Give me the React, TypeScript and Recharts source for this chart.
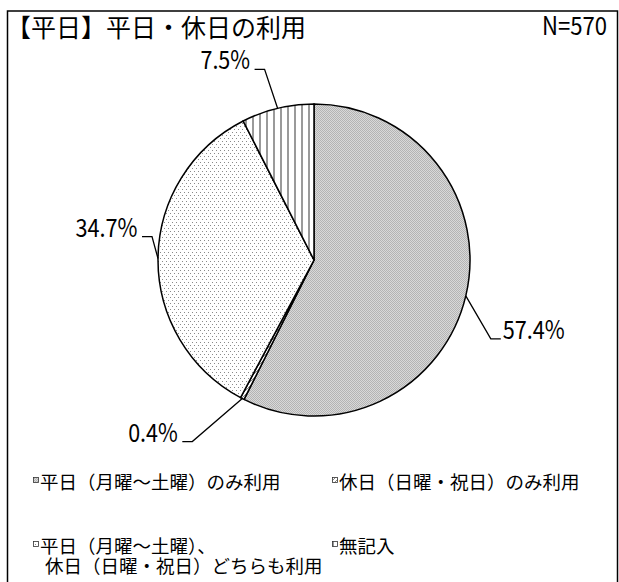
import React from 'react';
import { PieChart, Pie, Cell, Legend } from 'recharts';

const title = '【平日】平日・休日の利用';
const sampleSize = 570;
const categories = [
  '平日（月曜～土曜）のみ利用',
  '休日（日曜・祝日）のみ利用',
  '平日（月曜～土曜）、\n休日（日曜・祝日）どちらも利用',
  '無記入',
];
const shares = [57.4, 0.4, 34.7, 7.5];

const data = categories.map((name, i) => ({ name, value: shares[i] }));

const FONT = '"Noto Sans CJK JP", sans-serif';
const PATTERN_IDS = ['pat-weekday', 'pat-holiday', 'pat-both', 'pat-none'];
const RADIAN = Math.PI / 180;

// where each leader line bends, relative to the slice edge point
const LEADERS = [
  { dx: 25, dy: 43, side: 1 },
  { dx: -50, dy: 43, side: -1 },
  { dx: -6, dy: -22, side: -1 },
  { dx: -13, dy: -39, side: -1 },
];

const Patterns = () => (
  <svg width={0} height={0} style={{ position: 'absolute' }}>
    <defs>
      <pattern id="pat-weekday" width={2} height={2} patternUnits="userSpaceOnUse">
        <rect width={2} height={2} fill="#d9d9d9" />
        <rect x={0} y={0} width={1} height={1} fill="#b4b4b4" />
        <rect x={1} y={1} width={1} height={1} fill="#b4b4b4" />
      </pattern>
      <pattern id="pat-holiday" width={4} height={4} patternUnits="userSpaceOnUse">
        <rect width={4} height={4} fill="#fff" />
        <path d="M0,4 L4,0" stroke="#888" strokeWidth={1} />
      </pattern>
      <pattern id="pat-both" width={4} height={6} patternUnits="userSpaceOnUse">
        <rect width={4} height={6} fill="#fff" />
        <rect x={0} y={0} width={1} height={1} fill="#8a8a8a" />
        <rect x={2} y={3} width={1} height={1} fill="#8a8a8a" />
      </pattern>
      <pattern id="pat-none" width={7} height={7} patternUnits="userSpaceOnUse">
        <rect width={7} height={7} fill="#fff" />
        <rect x={0} y={0} width={2} height={7} fill="#9a9a9a" />
      </pattern>
    </defs>
  </svg>
);

const renderLabel = (props: any) => {
  const { cx, cy, midAngle, outerRadius, index, value } = props;
  const ax = cx + outerRadius * Math.cos(-midAngle * RADIAN);
  const ay = cy + outerRadius * Math.sin(-midAngle * RADIAN);
  const l = LEADERS[index];
  const ex = ax + l.dx;
  const ey = ay + l.dy;
  const tx = ex + l.side * 10;
  const text = `${Number(value).toFixed(1)}%`;
  return (
    <g key={`lbl-${index}`}>
      <polyline
        points={`${ax},${ay} ${ex},${ey} ${tx},${ey}`}
        fill="none"
        stroke="#000"
        strokeWidth={1.3}
      />
      <text
        x={l.side > 0 ? tx + 2 : tx - 4.5}
        y={ey}
        textAnchor={l.side > 0 ? 'start' : 'end'}
        fontSize={25}
        fontFamily={FONT}
        textLength={text.length * 12.4}
        lengthAdjust="spacingAndGlyphs"
        fill="#000"
      >
        {text}
      </text>
    </g>
  );
};

const renderLegend = (props: any) => {
  const { payload = [] } = props;
  // keep the original category order (the legend sorts its entries otherwise)
  const items = [...payload].sort(
    (a: any, b: any) => categories.indexOf(a.value) - categories.indexOf(b.value)
  );
  return (
    <div style={{ position: 'relative', width: 619, height: 110, fontFamily: FONT, fontSize: 18.5, color: '#000' }}>
      {items.map((entry: any) => {
        const lines = String(entry.value).split('\n');
        const k = categories.indexOf(entry.value);
        return (
          <div
            key={`leg-${k}`}
            style={{ position: 'absolute', left: 33 + (k % 2) * 299, top: Math.floor(k / 2) * 64, display: 'flex' }}
          >
            <svg width={6} height={6} style={{ marginTop: 6, flex: 'none' }}>
              <rect x={0.5} y={0.5} width={5} height={5} fill={`url(#${PATTERN_IDS[k]})`} stroke="#333" strokeWidth={0.8} />
            </svg>
            <div style={{ lineHeight: '20px', whiteSpace: 'nowrap', marginLeft: 1 }}>
              {lines.map((ln, j) => (
                <div key={j} style={{ paddingLeft: j > 0 ? 5 : 0 }}>{ln}</div>
              ))}
            </div>
          </div>
        );
      })}
    </div>
  );
};

export default function App() {
  return (
    <div style={{ position: 'absolute', left: 0, top: 0, width: 619, height: 582, background: '#fff', overflow: 'hidden' }}>
      <Patterns />
      <PieChart width={619} height={582} margin={{ top: 0, right: 0, bottom: 0, left: 0 }}>
        <Pie
          data={data}
          dataKey="value"
          nameKey="name"
          cx={314}
          cy={260}
          outerRadius={156}
          startAngle={90}
          endAngle={-270}
          stroke="#000"
          strokeWidth={1.5}
          label={renderLabel}
          labelLine={false}
          isAnimationActive={false}
        >
          {data.map((d, i) => (
            <Cell key={d.name} fill={`url(#${PATTERN_IDS[i]})`} />
          ))}
        </Pie>
        <Legend
          verticalAlign="bottom"
          content={renderLegend}
          wrapperStyle={{ position: 'absolute', left: 0, top: 471, width: 619, height: 110 }}
        />
      </PieChart>
      <svg width={619} height={582} style={{ position: 'absolute', left: 0, top: 0, pointerEvents: 'none' }}>
        <rect x={7.5} y={11} width={610} height={600} fill="none" stroke="#000" strokeWidth={1.5} />
        <text x={6} y={37} fontSize={25} fontFamily={FONT} fill="#000">{title}</text>
        <text
          x={607}
          y={35}
          textAnchor="end"
          fontSize={25}
          fontFamily={FONT}
          textLength={65}
          lengthAdjust="spacingAndGlyphs"
          fill="#000"
        >
          {`N=${sampleSize}`}
        </text>
      </svg>
    </div>
  );
}
